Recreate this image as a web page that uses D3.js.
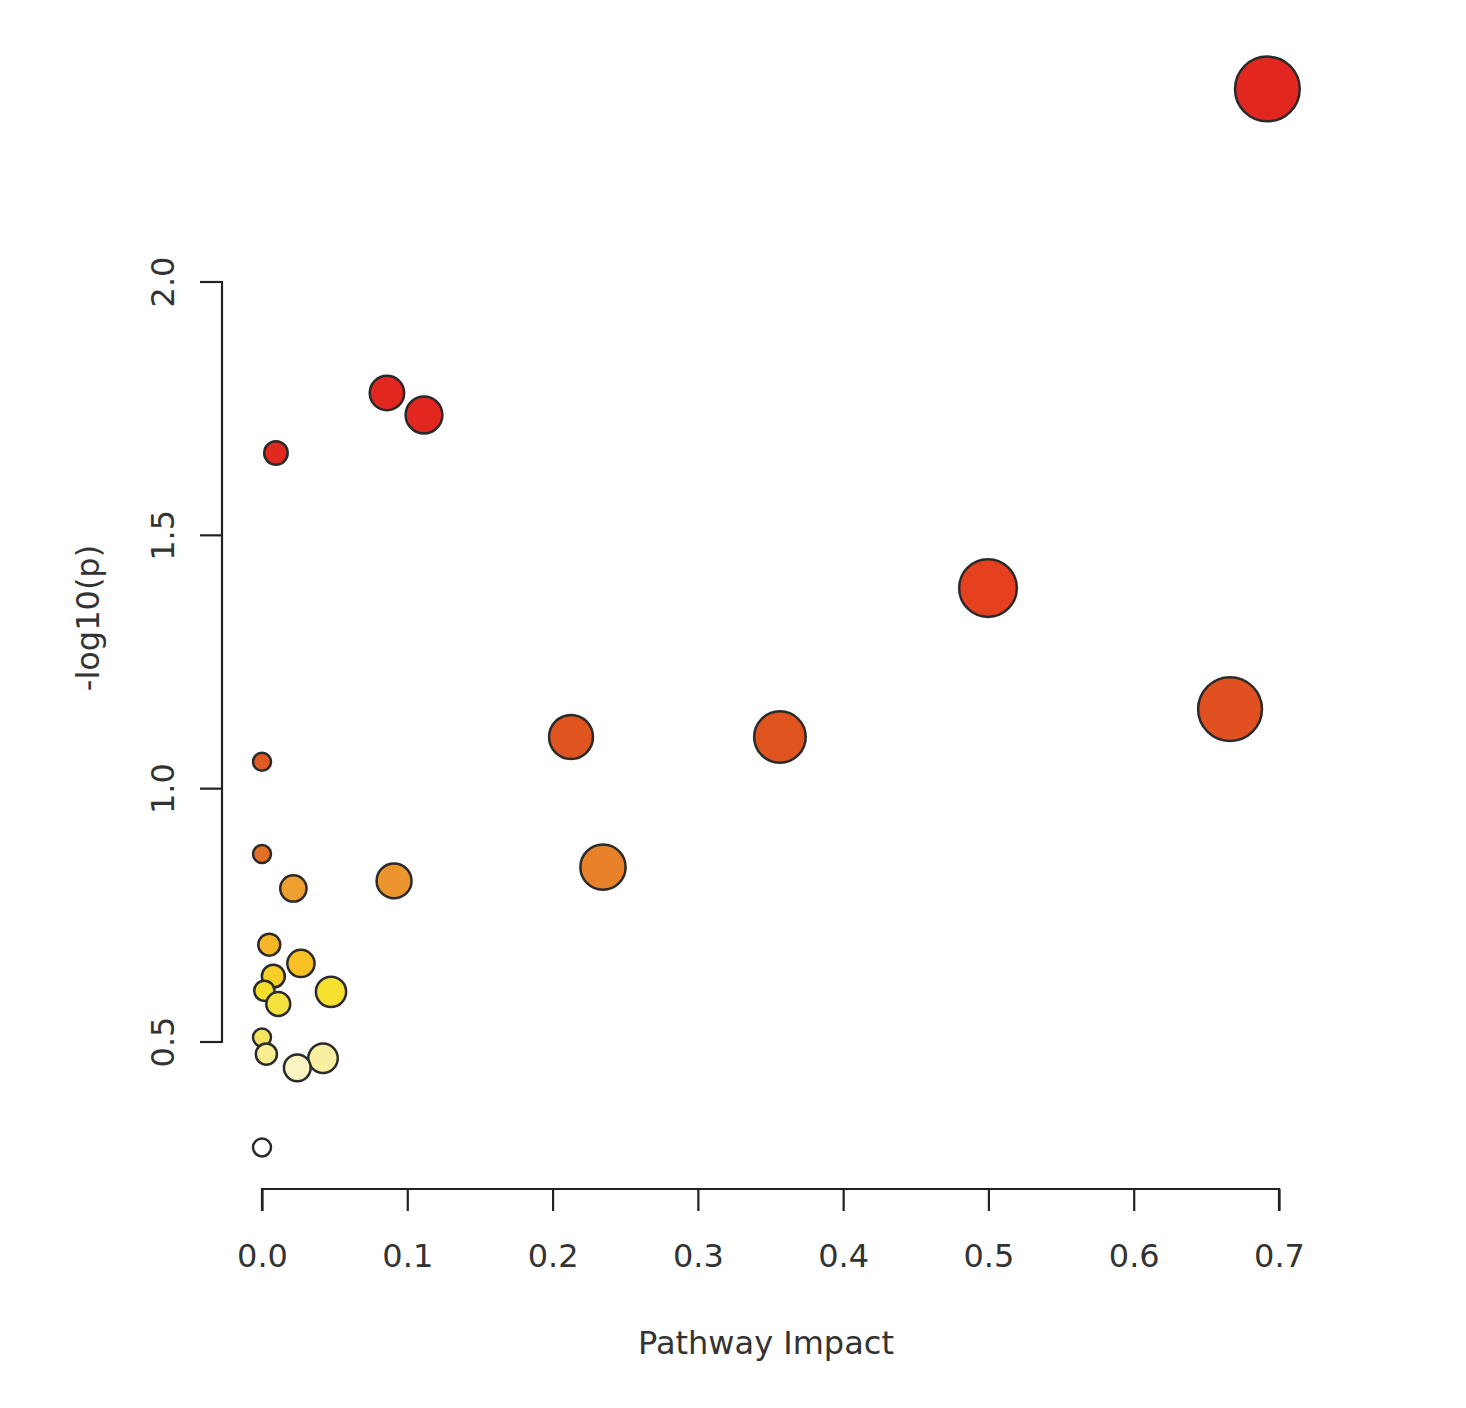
<!DOCTYPE html>
<html>
<head>
<meta charset="utf-8">
<script src="https://cdn.jsdelivr.net/npm/d3@7"></script>
<style>
  body { margin: 0; background: #fff; }
  text { font-family: "DejaVu Sans", sans-serif; fill: #333; }
</style>
</head>
<body>
<svg></svg>
<script>
// pathway impact (x) and -log10(p) (y)
var impact = [0.692, 0.086, 0.1115, 0.0096, 0.4997, 0.6663, 0.2127, 0.3565, 0.2347,
              0.0, 0.0, 0.0909, 0.0216, 0.005, 0.0268, 0.0078, 0.0016, 0.0475, 0.0112,
              0.0, 0.003, 0.042, 0.0243, 0.0]
var logp = [2.381, 1.781, 1.7375, 1.6625, 1.396, 1.157, 1.102, 1.102, 0.845,
            1.053, 0.871, 0.818, 0.803, 0.692, 0.655, 0.630, 0.601, 0.599, 0.575,
            0.509, 0.476, 0.468, 0.449, 0.292]
var xTicks = [0, 0.1, 0.2, 0.3, 0.4, 0.5, 0.6, 0.7]
var yTicks = [0.5, 1.0, 1.5, 2.0]

var width = 1466, height = 1408

var points = impact.map((d, i) => ({x: d, y: logp[i]}))

var svg = d3.select("svg").attr("width", width).attr("height", height)

var x = d3.scaleLinear().domain([0, 0.7]).range([262, 1279])
var y = d3.scaleLinear().domain([0.5, 2.0]).range([1042, 282])

// bigger impact -> bigger bubble
var r = d3.scaleSqrt().domain([0, 0.7]).range([9, 32.5])

// heat colours by -log10(p)
var color = d3.scaleLinear()
    .domain([0.29, 0.45, 0.5, 0.6, 0.66, 0.8, 0.87, 1.1, 1.4, 1.7])
    .range(["#ffffff", "#fcf4c2", "#f7e665", "#f5e02e", "#f8bd24", "#f0a030",
            "#e27026", "#e05420", "#e5401f", "#e22620"])
    .clamp(true)

// x axis (R style: line spans the ticks only)
var xAxis = svg.append("g")
    .attr("transform", "translate(0,1189)")
    .call(d3.axisBottom(x).tickValues(xTicks).tickFormat(d3.format(".1f")).tickSize(22).tickPadding(33))
xAxis.select(".domain").attr("d", "M262,22V0H1279V22")
xAxis.selectAll("line, path").attr("stroke", "#222").attr("stroke-width", 2.2)
xAxis.selectAll("text").style("font-size", "32px").attr("fill", "#333")
    .style("font-family", "DejaVu Sans")

// y axis
var yAxis = svg.append("g")
    .attr("transform", "translate(222,0)")
    .call(d3.axisLeft(y).tickValues(yTicks).tickFormat(d3.format(".1f")).tickSize(22))
yAxis.select(".domain").attr("d", "M-22,1042H0V282H-22")
yAxis.selectAll("line, path").attr("stroke", "#222").attr("stroke-width", 2.2)
yAxis.selectAll("text")
    .attr("x", 0).attr("dy", null)
    .attr("text-anchor", "middle")
    .attr("transform", d => "translate(-48," + y(d) + ") rotate(-90)")
    .attr("y", 0)
    .style("font-size", "32px").attr("fill", "#333")
    .style("font-family", "DejaVu Sans")
yAxis.selectAll(".tick").attr("transform", null)
yAxis.selectAll(".tick line").attr("transform", d => "translate(0," + y(d) + ")")

// titles
svg.append("text")
    .attr("x", 766).attr("y", 1354)
    .attr("text-anchor", "middle")
    .style("font-size", "32px")
    .text("Pathway Impact")

svg.append("text")
    .attr("transform", "translate(99,618) rotate(-90)")
    .attr("text-anchor", "middle")
    .style("font-size", "32px")
    .text("-log10(p)")

// bubbles
svg.append("g")
    .selectAll("circle")
    .data(points)
    .enter()
    .append("circle")
    .attr("cx", d => x(d.x))
    .attr("cy", d => y(d.y))
    .attr("r", d => r(d.x))
    .attr("fill", d => color(d.y))
    .attr("stroke", "#2a2a2a")
    .attr("stroke-width", 2.5)
</script>
</body>
</html>
